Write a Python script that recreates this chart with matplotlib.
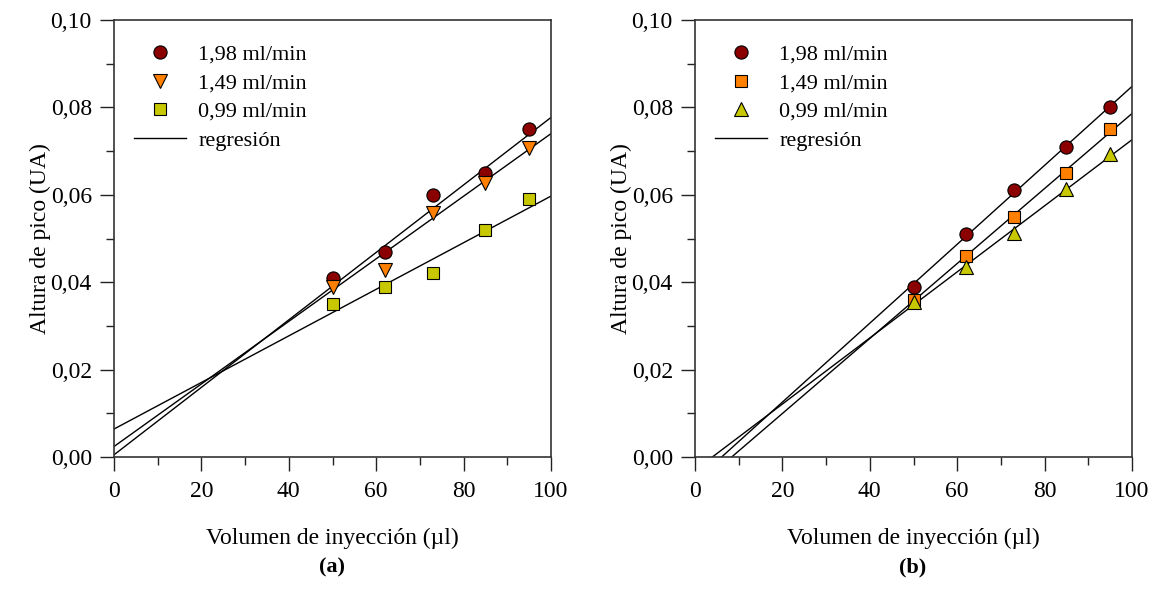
import numpy as np
import matplotlib
matplotlib.use("Agg")
import matplotlib.pyplot as plt
from matplotlib.ticker import MultipleLocator, FuncFormatter

plt.rcParams['font.family'] = ['Liberation Serif', 'DejaVu Serif']

# Data panel (a)
x_a = [50, 62, 73, 85, 95]
a_198 = [0.041, 0.047, 0.060, 0.065, 0.075]
a_149 = [0.0388, 0.0428, 0.0558, 0.0628, 0.0708]
a_099 = [0.0350, 0.0390, 0.0420, 0.0520, 0.0590]
# regression (intercept, slope)
a_reg = {"198": (0.0005, 0.000772), "149": (0.0024, 0.000716), "099": (0.0064, 0.000533)}

# Data panel (b)
x_b = [50, 62, 73, 85, 95]
b_198 = [0.039, 0.051, 0.061, 0.071, 0.080]
b_149 = [0.036, 0.046, 0.055, 0.065, 0.075]
b_099 = [0.0355, 0.0434, 0.0513, 0.0613, 0.0693]
b_reg = {"198": (-0.0055, 0.000903), "149": (-0.0072, 0.000858), "099": (-0.0030, 0.000756)}

labels = ["1,98 ml/min", "1,49 ml/min", "0,99 ml/min"]
c_red, c_orange, c_yellow = "#8B0000", "#FF8000", "#C8C800"

fig = plt.figure(figsize=(11.52, 6.04), dpi=100)
axA = fig.add_axes([114/1152, 1-457/604, 437/1152, 437/604])
axB = fig.add_axes([695/1152, 1-457/604, 437/1152, 437/604])

def style(ax):
    ax.set_xlim(0, 100)
    ax.set_ylim(0, 0.10)
    ax.xaxis.set_major_locator(MultipleLocator(20))
    ax.xaxis.set_minor_locator(MultipleLocator(10))
    ax.yaxis.set_major_locator(MultipleLocator(0.02))
    ax.yaxis.set_minor_locator(MultipleLocator(0.01))
    ax.yaxis.set_major_formatter(FuncFormatter(lambda v, p: f"{v:.2f}".replace(".", ",")))
    ax.tick_params(which='major', direction='out', length=10, width=1, labelsize=17, color='#222222', pad=6)
    ax.tick_params(which='minor', direction='out', length=6, width=1, color='#222222')
    ax.tick_params(axis='x', which='major', pad=7)
    for s in ax.spines.values():
        s.set_color('#333333')
        s.set_linewidth(1.2)
    ax.set_xlabel("Volumen de inyección (µl)", fontsize=17, labelpad=19)
    ax.set_ylabel("Altura de pico (UA)", fontsize=17, labelpad=0)

xl = np.array([0, 100])
for ax, xs, ser, reg, mk in [
    (axA, x_a, [a_198, a_149, a_099], a_reg, ['o', 'v', 's']),
    (axB, x_b, [b_198, b_149, b_099], b_reg, ['o', 's', '^'])]:
    handles = []
    for ys, key in zip(ser, ["198", "149", "099"]):
        b0, b1 = reg[key]
        ax.plot(xl, b0 + b1 * xl, color='black', lw=1.0, zorder=2)
    sizes = {'o': 9.5, 'v': 9.5, '^': 9.5, 's': 8}
    for ys, m, col, lab in zip(ser, mk, [c_red, c_orange, c_yellow], labels):
        h, = ax.plot(xs, ys, linestyle='none', marker=m, ms=sizes[m], mfc=col, mec='black', mew=0.8,
                     label=lab, zorder=3)
        handles.append(h)
    lh, = ax.plot([], [], color='black', lw=1.0, label='regresión')
    handles.append(lh)
    style(ax)
    ax.legend(handles=handles, loc='upper left', frameon=False, fontsize=16,
              bbox_to_anchor=(0.0, 0.99), handlelength=2.35, handletextpad=0.55,
              labelspacing=0.36, borderaxespad=0.5)

fig.text(332/1152, 1-567/604, "(a)", ha='center', va='center', fontsize=16, fontweight='bold')
fig.text(913/1152, 1-567/604, "(b)", ha='center', va='center', fontsize=16, fontweight='bold')

fig.savefig("out.png", dpi=100)
